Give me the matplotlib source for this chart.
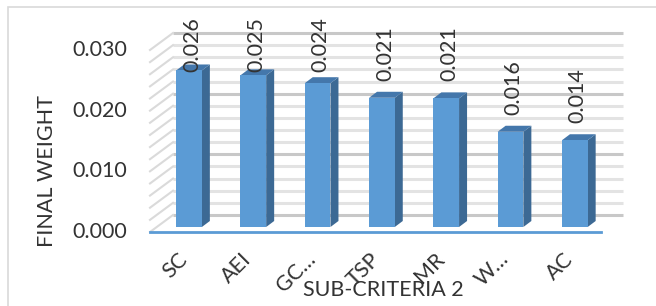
import matplotlib
matplotlib.use('Agg')
import matplotlib.pyplot as plt
from matplotlib.patches import Polygon, Rectangle

# data
categories = ['SC', 'AEI', 'GC…', 'TSP', 'MR', 'W…', 'AC']
weights = [0.0258, 0.0250, 0.0237, 0.0213, 0.0212, 0.0157, 0.0143]
yticks = [0.000, 0.010, 0.020, 0.030]
grid_vals = [i * 0.002 for i in range(16)]

plt.rcParams['font.family'] = ['Lato', 'DejaVu Sans']
TXT = '#333333'
FS = 15.5

W, H = 656, 306
fig = plt.figure(figsize=(W / 100, H / 100), dpi=100)
ax = fig.add_axes([0, 0, 1, 1])
ax.axis('off')

# pixel scales of the plot (category step and value scale)
XU = 64.3
YU = 6067.0
X0, Y0 = 189, 227
ax.set_xlim(-X0 / XU, (W - X0) / XU)
ax.set_ylim(-(H - Y0) / YU, Y0 / YU)

def dx(p):
    return p / XU

def dy(p):
    return p / YU

# outer frame
fig.patches.append(Rectangle((8 / W, -0.1), 1.1, 1 - 7 / H + 0.1,
                             transform=fig.transFigure, fill=False,
                             ec='#d9d9d9', lw=1.2))

# walls
fl, fr = dx(150 - X0), dx(601 - X0)   # front floor edge
bl, br = dx(173 - X0), dx(623 - X0)   # back wall
for v in grid_vals:
    major = abs(round(v / 0.01) * 0.01 - v) < 1e-9
    c = '#c8c8c8' if major else '#e3e3e3'
    ax.plot([bl, br], [v + dy(12), v + dy(12)], color=c, lw=2.2,
            solid_capstyle='butt', zorder=1)
    ax.plot([fl, bl], [v - dy(5), v + dy(12)], color='#dadada', lw=1.5,
            zorder=1)

# floor front edge
ax.plot([fl, fr], [-dy(5), -dy(5)], color='#5b9bd5', lw=2, zorder=2)

# bars with a fake 3d look
bw = 0.40
sx, sy = dx(8), dy(6)
for i, v in enumerate(weights):
    l, r = i - bw / 2, i + bw / 2
    ax.add_patch(Polygon([(r, 0), (r + sx, sy), (r + sx, v + sy), (r, v)],
                         closed=True, fc='#3c6994', ec='none', zorder=3))
    ax.add_patch(Polygon([(l, v), (r, v), (r + sx, v + sy), (l + sx, v + sy)],
                         closed=True, fc='#4477ab', ec='none', zorder=3))
    ax.add_patch(Rectangle((l, 0), bw, v, fc='#5b9bd5', ec='none', zorder=4))
    ax.text(i + dx(3), min(v + dy(17), dy(227 - 72)), f'{v:.3f}',
            rotation=90, ha='center', va='bottom', fontsize=FS, color=TXT,
            zorder=5)
    ax.text(i - dx(5), -dy(29), categories[i], rotation=45,
            rotation_mode='anchor', ha='right', va='center',
            fontsize=FS, color=TXT)

# y tick labels
for t in yticks:
    ax.text(dx(127 - X0), t - dy(5), f'{t:.3f}', ha='right', va='center',
            fontsize=FS, color=TXT)

ax.text(dx(47 - X0), dy(227 - 171), 'FINAL WEIGHT', rotation=90,
        ha='center', va='center', fontsize=FS, color=TXT)
ax.text(dx(383 - X0), dy(227 - 290), 'SUB-CRITERIA 2', ha='center',
        va='center', fontsize=FS, color=TXT)

fig.savefig('out.png', dpi=100)
